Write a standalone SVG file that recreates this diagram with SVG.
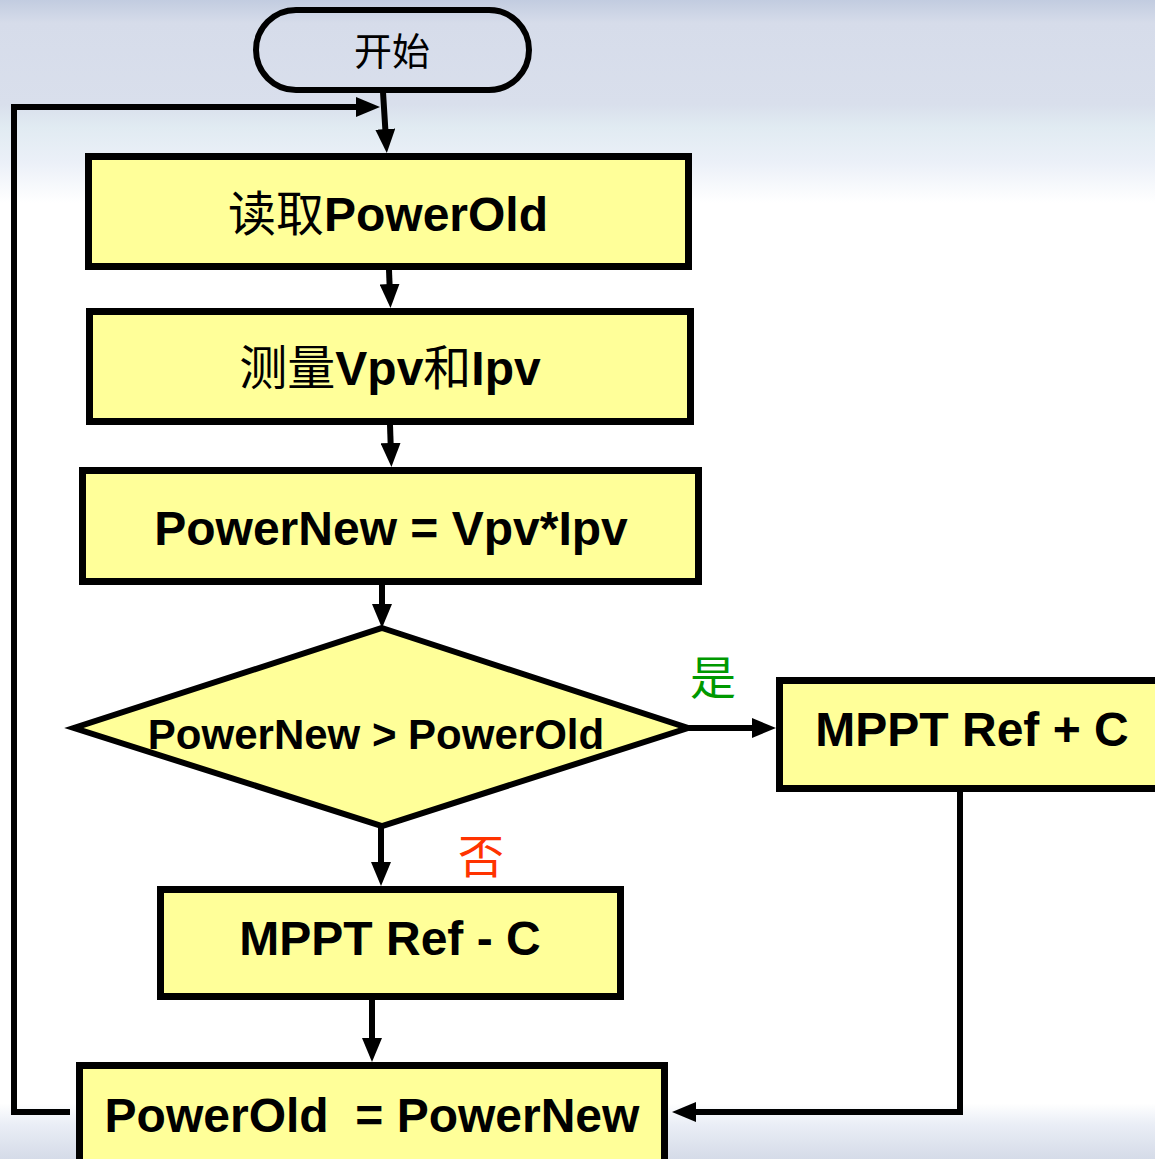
<svg xmlns="http://www.w3.org/2000/svg" width="1155" height="1159" viewBox="0 0 1155 1159">
  <defs>
    <linearGradient id="bg" x1="0" y1="0" x2="0" y2="1159" gradientUnits="userSpaceOnUse">
      <stop offset="0" stop-color="#c2cce0"/>
      <stop offset="0.02" stop-color="#d6dcea"/>
      <stop offset="0.09" stop-color="#d9dfec"/>
      <stop offset="0.11" stop-color="#e1ebf2"/>
      <stop offset="0.14" stop-color="#ebf0f8"/>
      <stop offset="0.175" stop-color="#ffffff"/>
      <stop offset="0.952" stop-color="#ffffff"/>
      <stop offset="0.97" stop-color="#eaeef6"/>
      <stop offset="1" stop-color="#d5dbe8"/>
    </linearGradient>
    <marker id="arrow" viewBox="0 0 24 20" refX="11" refY="10" markerWidth="24" markerHeight="20" markerUnits="userSpaceOnUse" orient="auto">
      <path d="M0,0 L24,10 L0,20 Z" fill="#000"/>
    </marker>
  </defs>
  <style>
    .box { fill: #ffff99; stroke: #000; stroke-width: 7; }
    .dia { fill: #ffff99; stroke: #000; stroke-width: 6; stroke-linejoin: miter; }
    .term { fill: none; stroke: #000; stroke-width: 6; }
    .lbl { font-family: "Liberation Sans", Arial, "Noto Sans CJK SC", sans-serif; font-weight: bold; font-size: 48px; fill: #000; text-anchor: middle; }
    .cjk { font-family: "Noto Sans CJK SC", sans-serif; font-weight: normal; }
    .conn { fill: none; stroke: #000; stroke-width: 6; stroke-linejoin: miter; }
    .tag { font-family: "Noto Sans CJK SC", sans-serif; font-size: 46px; text-anchor: middle; }
  </style>

  <rect x="0" y="0" width="1155" height="1159" fill="url(#bg)"/>

  <!-- connectors -->
  <g id="connectors">
    <path class="conn" d="M383,92 L386,140" marker-end="url(#arrow)"/>
    <path class="conn" d="M70,1112 H14 V107 H367" marker-end="url(#arrow)"/>
    <path class="conn" d="M389,270 L390,295" marker-end="url(#arrow)"/>
    <path class="conn" d="M390,425 L391,454" marker-end="url(#arrow)"/>
    <path class="conn" d="M382,585 L382,615" marker-end="url(#arrow)"/>
    <path class="conn" d="M688,728 H763" marker-end="url(#arrow)"/>
    <path class="conn" d="M381,826 V873" marker-end="url(#arrow)"/>
    <path class="conn" d="M372,1000 V1049" marker-end="url(#arrow)"/>
    <path class="conn" d="M960,792 V1112 H685" marker-end="url(#arrow)"/>
  </g>

  <!-- start terminator -->
  <g id="start">
    <rect class="term" x="256" y="10" width="273" height="80" rx="40" ry="40"/>
    <text class="tag" x="392" y="65" style="font-size:38px" fill="#000">开始</text>
  </g>

  <g id="read-old">
    <rect class="box" x="88.5" y="156.5" width="600" height="110"/>
    <text class="lbl" x="388" y="231"><tspan class="cjk">读取</tspan>PowerOld</text>
  </g>

  <g id="measure">
    <rect class="box" x="89.5" y="311.5" width="601" height="110"/>
    <text class="lbl" x="390" y="385"><tspan class="cjk">测量</tspan>Vpv<tspan class="cjk">和</tspan>Ipv</text>
  </g>

  <g id="compute">
    <rect class="box" x="82.5" y="470.5" width="616" height="111"/>
    <text class="lbl" x="391" y="545">PowerNew = Vpv*Ipv</text>
  </g>

  <g id="compare">
    <polygon class="dia" points="382,628 688,728 382,826 74,728"/>
    <text class="lbl" x="376" y="749" style="font-size:42px">PowerNew &gt; PowerOld</text>
  </g>

  <g id="yes-label">
    <text class="tag" x="713" y="694" fill="#009900">是</text>
  </g>

  <g id="no-label">
    <text class="tag" x="481" y="873" fill="#ff3300">否</text>
  </g>

  <g id="ref-plus">
    <rect class="box" x="779.5" y="680.5" width="390" height="108"/>
    <text class="lbl" x="972" y="746">MPPT Ref + C</text>
  </g>

  <g id="ref-minus">
    <rect class="box" x="160.5" y="889.5" width="460" height="107"/>
    <text class="lbl" x="390" y="955">MPPT Ref - C</text>
  </g>

  <g id="update-old">
    <rect class="box" x="79.5" y="1065.5" width="585" height="110"/>
    <text class="lbl" x="372" y="1132" xml:space="preserve">PowerOld  = PowerNew</text>
  </g>
</svg>
